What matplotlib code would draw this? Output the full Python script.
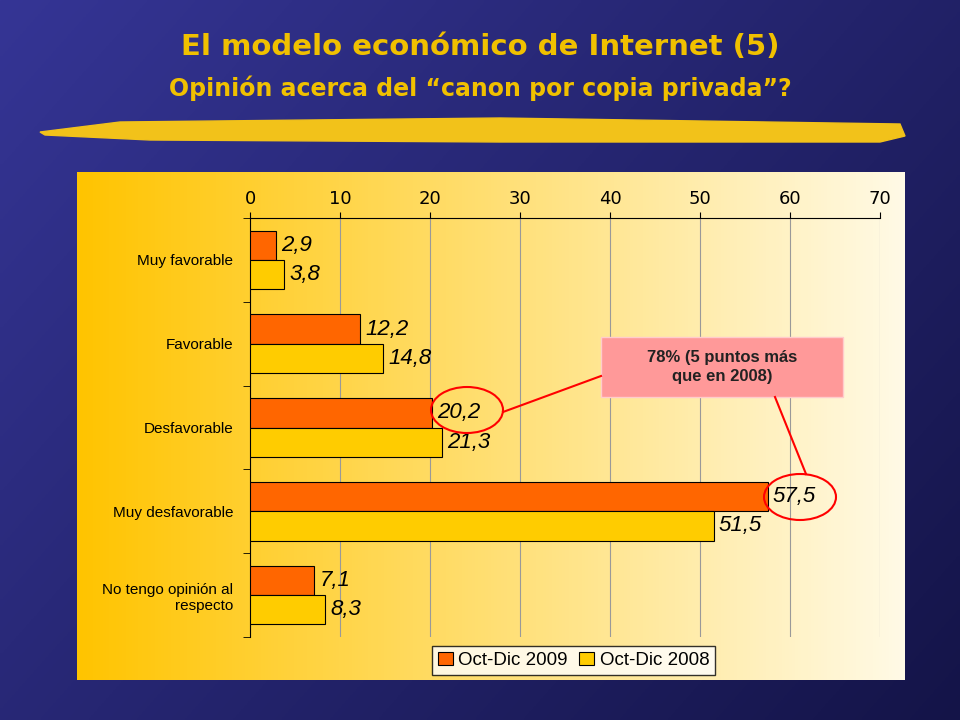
import numpy as np
import matplotlib
matplotlib.use("Agg")
import matplotlib.pyplot as plt
from matplotlib.patches import Ellipse, Rectangle, Polygon

categories = ["Muy favorable", "Favorable", "Desfavorable", "Muy desfavorable", "No tengo opinión al\nrespecto"]
s2009 = [2.9, 12.2, 20.2, 57.5, 7.1]
s2008 = [3.8, 14.8, 21.3, 51.5, 8.3]
series_names = ["Oct-Dic 2009", "Oct-Dic 2008"]
xticks = [0, 10, 20, 30, 40, 50, 60, 70]

W, H = 960, 720
fig = plt.figure(figsize=(9.6, 7.2), dpi=100)

# background
bg = fig.add_axes([0, 0, 1, 1]); bg.set_axis_off()
grad = np.linspace(0, 1, 256)
c1 = np.array([0x35, 0x35, 0x95]) / 255; c2 = np.array([0x14, 0x14, 0x48]) / 255
xx, yy = np.meshgrid(grad, grad)
t = np.clip(0.6 * xx + 0.4 * yy, 0, 1)
img = c1 * (1 - t[..., None]) + c2 * t[..., None]
bg.imshow(img, extent=[0, W, H, 0], aspect="auto")
bg.set_xlim(0, W); bg.set_ylim(H, 0)

# title
fig.text(0.5, 1 - 47 / H, "El modelo económico de Internet (5)", ha="center", va="center",
         color="#f0c000", fontsize=21, fontweight="bold", family="DejaVu Sans")
fig.text(0.5, 1 - 88 / H, "Opinión acerca del \u201ccanon por copia privada\u201d?", ha="center", va="center",
         color="#f0c000", fontsize=17, fontweight="bold", family="DejaVu Sans")
# brush stroke
bg.add_patch(Polygon([[40, 132], [120, 122], [500, 118], [900, 124], [905, 136], [880, 142],
                      [500, 142], [150, 140], [45, 135]], closed=True, color="#f2c21a", zorder=2))

# panel gradient
pan = fig.add_axes([77 / W, 1 - 680 / H, (905 - 77) / W, (680 - 172) / H]); pan.set_axis_off()
g = np.linspace(0, 1, 256)
ca = np.array([0xff, 0xc4, 0x00]) / 255; cb = np.array([0xff, 0xfa, 0xe6]) / 255
pimg = ca * (1 - g[None, :, None]) + cb * g[None, :, None]
pimg = np.repeat(pimg, 4, axis=0)
pan.imshow(pimg, extent=[0, 1, 0, 1], aspect="auto")

# plot axes
ax = fig.add_axes([250 / W, 1 - 637 / H, 630 / W, 419 / H])
ax.patch.set_alpha(0)
y = np.arange(len(categories))
h = 0.35
ax.barh(y - h / 2, s2009, height=h, color="#ff6600", edgecolor="black", linewidth=0.8, label=series_names[0], zorder=3)
ax.barh(y + h / 2, s2008, height=h, color="#ffcc00", edgecolor="black", linewidth=0.8, label=series_names[1], zorder=3)
for yi, v in zip(y - h / 2, s2009):
    ax.text(v + 0.6, yi, f"{v:.1f}".replace(".", ","), va="center", ha="left", fontsize=16, style="italic", family="Liberation Sans", zorder=4)
for yi, v in zip(y + h / 2, s2008):
    ax.text(v + 0.6, yi, f"{v:.1f}".replace(".", ","), va="center", ha="left", fontsize=16, style="italic", family="Liberation Sans", zorder=4)
ax.set_xlim(0, 70); ax.set_ylim(4.5, -0.5)
ax.set_xticks(xticks)
ax.xaxis.tick_top()
ax.tick_params(axis="x", labelsize=13, length=4)
ax.set_yticks(y); ax.set_yticklabels(categories, fontsize=11, family="Liberation Sans")
ax.set_yticks(np.arange(-0.5, 4.6, 1), minor=True)
ax.tick_params(axis="y", which="major", length=0, pad=12)
ax.tick_params(axis="y", which="minor", length=5)
ax.grid(axis="x", color="#999999", linewidth=0.8, zorder=0)
for s in ["right", "bottom"]:
    ax.spines[s].set_visible(False)
ax.legend(loc="center", bbox_to_anchor=((573.5 - 250) / 630, (637 - 660.5) / 419), ncol=2,
          frameon=True, fancybox=False, edgecolor="black", handlelength=0.8,
          handletextpad=0.3, columnspacing=0.6, borderpad=0.3, prop={"family": "Liberation Sans", "size": 13.5})

# overlay annotations
ov = fig.add_axes([0, 0, 1, 1]); ov.set_axis_off(); ov.patch.set_alpha(0)
ov.set_xlim(0, W); ov.set_ylim(H, 0)
ov.plot([601, 503], [376, 412], color="red", lw=1.5)
ov.plot([775, 806], [397, 474], color="red", lw=1.5)
ov.add_patch(Ellipse((467, 410), 72, 46, fill=False, edgecolor="red", lw=1.5))
ov.add_patch(Ellipse((800, 497), 72, 46, fill=False, edgecolor="red", lw=1.5))
ov.add_patch(Rectangle((601, 337), 242, 60, facecolor="#ff9999", edgecolor="#ffcccc", lw=1))
ov.text(722, 367, "78% (5 puntos más\nque en 2008)", ha="center", va="center", fontsize=12,
        fontweight="bold", color="#222222", family="Liberation Sans", linespacing=1.4)

fig.savefig("out.png", dpi=100)
